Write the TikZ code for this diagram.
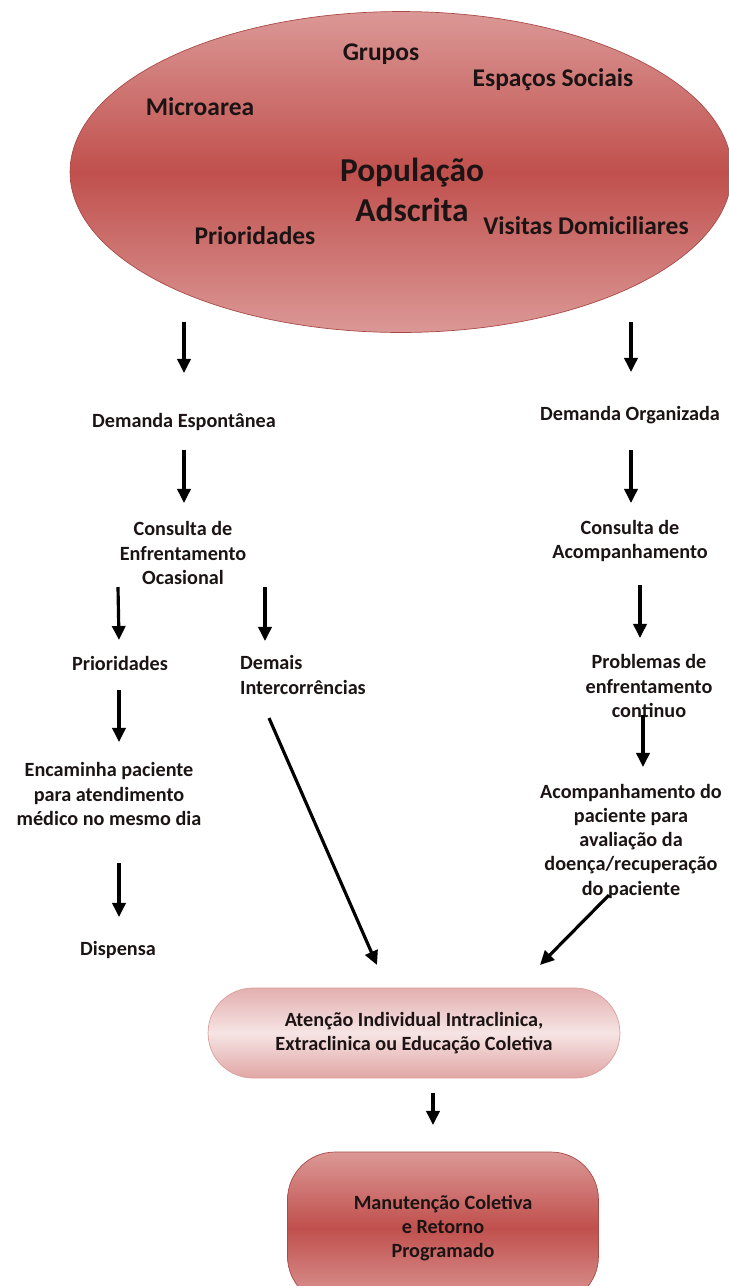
\documentclass[tikz,border=0pt]{standalone}
\usepackage{fontspec}
\setmainfont{Carlito}
\usetikzlibrary{arrows.meta,positioning,shapes.geometric,calc}
\definecolor{popred}{HTML}{C0504D}
\definecolor{popedge}{HTML}{DB9896}
\definecolor{rimred}{HTML}{A94A48}
\definecolor{palepink}{HTML}{F6E4E4}
\definecolor{midpink}{HTML}{E3B0AF}
\definecolor{inktext}{HTML}{1C1414}

\begin{document}
\begin{tikzpicture}[
    x=0.02cm, y=-0.02cm,
    lbl/.style={font=\fontsize{11.5}{13.8}\selectfont\bfseries,align=center,inner sep=1pt,text=inktext},
    inlbl/.style={font=\fontsize{14.5}{17}\selectfont\bfseries,inner sep=1pt,text=inktext},
    biglbl/.style={font=\fontsize{19}{23.2}\selectfont\bfseries,align=center,inner sep=1pt,text=inktext},
    pill/.style={draw=midpink!80!popred,rounded corners=0.9cm,minimum width=8.24cm,minimum height=1.8cm,
      top color=midpink,bottom color=midpink!90!popred,middle color=palepink},
    roundbox/.style={draw=rimred,rounded corners=0.95cm,minimum width=6.22cm,minimum height=3.04cm,
      top color=popedge,bottom color=popedge,middle color=popred},
    arr/.style={-{Triangle[length=8pt,width=7.5pt]},line width=1.8pt,black}
  ]
  \useasboundingbox (0,0) rectangle (729,1286);

  \node[ellipse,draw=rimred,minimum width=13.24cm,minimum height=6.42cm,
    top color=popedge,bottom color=popedge,middle color=popred] (pop) at (401,172) {};
  \node[inlbl] (grupos) at (381,54) {Grupos};
  \node[inlbl] (espacos) at (553,80) {Espaços Sociais};
  \node[inlbl] (micro) at (200,107) {Microarea};
  \node[biglbl] (popl) at (412,190) {População\\Adscrita};
  \node[inlbl] (prioE) at (255,236) {Prioridades};
  \node[inlbl] (visitas) at (586,226) {Visitas Domiciliares};

  \node[lbl] (demEsp) at (184,422) {Demanda Espontânea};
  \node[lbl] (demOrg) at (630,415) {Demanda Organizada};
  \node[lbl] (consEsp) at (183,553) {Consulta de\\Enfrentamento\\Ocasional};
  \node[lbl] (consAco) at (630,541) {Consulta de\\Acompanhamento};
  \node[lbl] (prio) at (120,663) {Prioridades};
  \node[lbl,align=left,anchor=west] (demais) at (238,675) {Demais\\Intercorrências};
  \node[lbl] (probl) at (649,686) {Problemas de\\enfrentamento\\continuo};
  \node[lbl] (encam) at (109,794) {Encaminha paciente\\para atendimento\\médico no mesmo dia};
  \node[lbl] (acomp) at (631,841) {Acompanhamento do\\paciente para\\avaliação da\\doença/recuperação\\do paciente};
  \node[lbl] (disp) at (118,950) {Dispensa};

  \node[pill,lbl] (aten) at (414,1033) {Atenção Individual Intraclinica,\\Extraclinica ou Educação Coletiva};
  \node[roundbox,lbl] (manut) at (443,1228) {Manutenção Coletiva\\e Retorno\\Programado};

  \draw[arr] ($(pop)+(-217,150)$) -- ($(demEsp)+(0,-49)$);
  \draw[arr] ($(pop)+(230,150)$) -- ($(demOrg)+(1,-43)$);
  \draw[arr] ($(demEsp)+(0,28)$) -- ($(consEsp)+(1,-50)$);
  \draw[arr] ($(demOrg)+(1,35)$) -- ($(consAco)+(1,-38)$);
  \draw[arr] ($(consEsp)+(-65,34)$) -- ($(prio)+(-1,-23)$);
  \draw[arr] ($(consEsp)+(82,34)$) -- ($(demais.west)+(27,-34)$);
  \draw[arr] ($(consAco)+(10,44)$) -- ($(probl)+(-9,-48)$);
  \draw[arr] ($(prio)+(-1,27)$) -- ($(encam)+(10,-52)$);
  \draw[arr] ($(probl)+(-6,29)$) -- ($(acomp)+(12,-74)$);
  \draw[arr] ($(encam)+(10,69)$) -- ($(disp)+(1,-33)$);
  \draw[arr] ($(demais.west)+(31,43)$) -- ($(aten)+(-37,-68)$);
  \draw[arr] ($(acomp)+(-22,54)$) -- ($(aten)+(126,-68)$);
  \draw[arr] ($(aten)+(19,60)$) -- ($(manut)+(-10,-103)$);
\end{tikzpicture}
\end{document}
